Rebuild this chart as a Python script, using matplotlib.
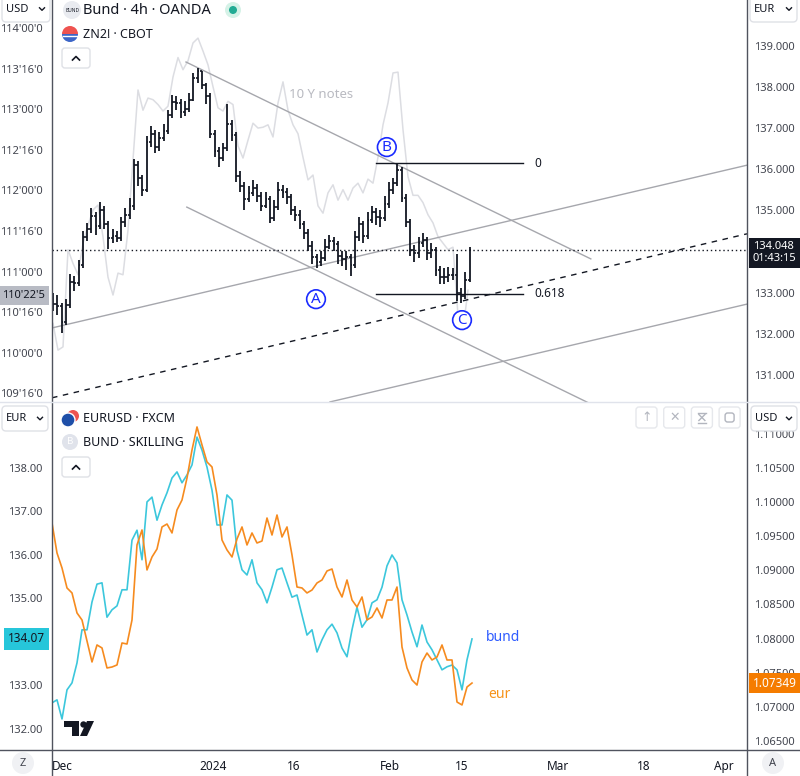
import matplotlib
matplotlib.use("Agg")
import matplotlib.pyplot as plt
import numpy as np
from matplotlib.patches import Circle, FancyBboxPatch, Polygon, Wedge
from matplotlib.ticker import FuncFormatter

plt.rcParams['font.family'] = ['Noto Sans', 'DejaVu Sans']

# x axis is in trading days counted from 1 Dec 2023
date_ticks = [0, 18.9, 29, 41, 49.9, 62, 72.75, 82.75]
date_labels = ["Dec", "2024", "16", "Feb", "15", "Mar", "18", "Apr"]

# Bund 4h bars (OANDA), right scale of the top panel
bar_start, bar_step = -1.125, 0.53125
bund_close = [132.72, 132.67, 132.28, 132.70, 133.26, 133.23, 133.67, 134.35, 134.55, 134.86,
              134.62, 135.01, 134.67, 134.33, 134.38, 134.33, 134.72, 134.89, 135.11, 136.10,
              135.79, 135.50, 136.66, 136.86, 136.54, 136.76, 136.93, 137.32, 137.64, 137.61,
              137.39, 137.47, 137.69, 138.22, 138.39, 138.05, 137.78, 136.86, 136.45, 136.27,
              136.52, 137.10, 136.83, 135.84, 135.59, 135.28, 135.42, 135.55, 135.35, 135.11,
              135.28, 134.82, 135.08, 135.50, 135.45, 135.33, 135.01, 134.89, 134.67, 134.45,
              134.13, 133.87, 133.74, 133.84, 134.11, 134.26, 134.18, 133.89, 133.82, 133.87,
              133.67, 134.35, 134.67, 134.38, 134.77, 134.96, 134.84, 134.82, 135.16, 135.50,
              135.67, 135.98, 135.30, 134.72, 134.04, 133.96, 134.21, 134.28, 133.96, 134.04,
              133.55, 133.38, 133.38, 133.43, 133.43, 132.99, 132.92, 133.31, 134.048]
bund_high = [133.00, 132.95, 132.75, 132.85, 133.45, 133.40, 133.80, 134.50, 134.70, 135.05,
             134.95, 135.20, 135.10, 134.75, 134.55, 134.50, 134.85, 135.05, 135.30, 136.25,
             136.20, 135.85, 136.80, 137.05, 136.95, 136.90, 137.10, 137.45, 137.80, 137.78,
             137.70, 137.65, 137.85, 138.35, 138.46, 138.40, 138.10, 137.85, 136.95, 136.55,
             136.65, 137.60, 137.20, 136.90, 135.95, 135.70, 135.60, 135.75, 135.65, 135.45,
             135.45, 135.35, 135.25, 135.70, 135.62, 135.55, 135.40, 135.10, 135.00, 134.75,
             134.55, 134.25, 133.95, 134.00, 134.30, 134.40, 134.35, 134.25, 134.00, 134.00,
             133.95, 134.50, 134.85, 134.75, 134.95, 135.10, 135.05, 135.00, 135.35, 135.70,
             135.80, 136.15, 136.05, 135.40, 134.80, 134.15, 134.35, 134.45, 134.35, 134.20,
             134.10, 133.65, 133.60, 133.62, 133.60, 133.95, 133.10, 133.50, 134.10]
bund_low = [132.55, 132.45, 132.02, 132.20, 132.62, 133.05, 133.15, 133.60, 134.25, 134.45,
            134.40, 134.55, 134.55, 134.05, 134.20, 134.22, 134.25, 134.60, 134.80, 135.00,
            135.60, 135.35, 135.45, 136.55, 136.40, 136.45, 136.70, 136.85, 137.25, 137.45,
            137.25, 137.30, 137.40, 137.65, 138.10, 137.95, 137.60, 136.75, 136.30, 136.05,
            136.20, 136.45, 136.70, 135.70, 135.45, 135.00, 135.20, 135.35, 135.20, 134.98,
            135.05, 134.70, 134.75, 135.00, 135.30, 135.15, 134.90, 134.75, 134.55, 134.30,
            134.00, 133.70, 133.60, 133.65, 133.78, 134.05, 134.00, 133.70, 133.65, 133.55,
            133.40, 133.60, 134.25, 134.20, 134.30, 134.70, 134.65, 134.60, 134.75, 135.05,
            135.40, 135.60, 135.20, 134.60, 133.90, 133.75, 133.85, 134.10, 133.80, 133.85,
            133.40, 133.20, 133.20, 133.25, 133.30, 132.80, 132.75, 132.85, 133.25]
bund_first_open = 132.85
bund_ticks = [131, 132, 133, 135, 136, 137, 138, 139]

# ZN2! (CBOT 10 Y notes), left scale of the top panel, in points
zn_start, zn_step = -1.125, 0.625
zn_close = [110.36, 110.03, 110.07, 111.27, 111.10, 110.96, 111.35, 111.57, 111.76, 111.82,
            111.43, 110.93, 110.71, 110.98, 110.96, 111.51, 112.38, 113.24, 112.99, 113.14,
            113.12, 113.06, 112.98, 113.04, 113.40, 113.64, 113.49, 113.60, 113.82, 113.88,
            113.72, 113.55, 113.28, 113.02, 112.98, 113.10, 113.06, 112.55, 112.40, 112.62,
            112.83, 112.77, 112.78, 112.81, 112.66, 113.08, 113.34, 112.99, 112.81, 112.70,
            112.41, 112.13, 112.19, 111.81, 111.72, 111.97, 112.07, 111.88, 112.01, 111.88,
            112.03, 112.09, 111.97, 112.14, 112.09, 112.41, 112.81, 113.08, 113.45, 113.46,
            112.75, 112.17, 111.94, 111.94, 111.85, 111.70, 111.60, 111.43, 111.35, 111.27,
            111.30, 110.46, 110.28, 110.77]
zn_last = 110.703125

# bottom panel: BUND (SKILLING) left scale, EURUSD (FXCM) right scale
cmp_start, cmp_step = -1.25, 0.625
bund_skilling = [132.60, 132.67, 132.23, 132.90, 133.06, 133.52, 134.28, 134.28, 134.92, 135.33,
                 135.36, 134.57, 134.74, 134.83, 135.20, 135.20, 136.34, 136.57, 135.89, 137.22,
                 137.33, 136.80, 137.15, 137.43, 137.77, 137.91, 137.66, 137.84, 138.07, 138.71,
                 138.41, 138.02, 137.49, 136.69, 136.69, 137.38, 137.26, 136.11, 135.66, 135.54,
                 135.89, 135.36, 135.20, 134.90, 135.26, 135.66, 135.70, 135.36, 135.03, 135.08,
                 134.62, 134.16, 134.28, 133.77, 134.05, 134.28, 134.41, 134.21, 133.86, 133.66,
                 134.28, 134.80, 134.34, 134.51, 134.90, 134.97, 135.26, 135.75, 136.00, 135.82,
                 134.97, 134.62, 134.23, 133.89, 134.39, 134.00, 133.82, 133.59, 133.36, 133.43,
                 133.47, 133.36, 132.90, 133.59, 134.07]
bund_skilling_ticks = [132, 133, 135, 136, 137, 138]
eurusd = [1.09694, 1.09255, 1.09035, 1.08742, 1.08669, 1.08376, 1.08273, 1.07965, 1.07658, 1.07907,
          1.07863, 1.07570, 1.07584, 1.07614, 1.07936, 1.07921, 1.08273, 1.09372, 1.09592, 1.09006,
          1.09196, 1.09313, 1.09636, 1.09679, 1.09548, 1.09885, 1.10031, 1.10353, 1.10764, 1.11101,
          1.10837, 1.10588, 1.10515, 1.10104, 1.09445, 1.09299, 1.09196, 1.09460, 1.09636, 1.09372,
          1.09548, 1.09401, 1.09430, 1.09767, 1.09518, 1.09811, 1.09489, 1.09636, 1.09225, 1.08756,
          1.08742, 1.08669, 1.08712, 1.08815, 1.08859, 1.08991, 1.09020, 1.08756, 1.08610, 1.08859,
          1.08566, 1.08463, 1.08610, 1.08273, 1.08317, 1.08449, 1.08302, 1.08566, 1.08566, 1.08756,
          1.07877, 1.07570, 1.07394, 1.07320, 1.07658, 1.07789, 1.07687, 1.07731, 1.07907, 1.07687,
          1.07687, 1.07071, 1.07028, 1.07291, 1.07349]
eurusd_ticks = [1.065, 1.070, 1.075, 1.080, 1.085, 1.090, 1.095, 1.100, 1.105, 1.110]

# drawings on the Bund chart: (x from, x to, price from, price to)
channel_lines = [(15.5, 66.1, 138.61, 133.82), (15.6, 66.0, 135.08, 130.30),
                 (-1.25, 85.625, 132.14, 136.10), (33.5, 85.625, 130.34, 132.72)]
dashed_line = (-1.25, 85.625, 130.44, 134.43)
fib_span = (39.25, 57.6)
fib_levels = [("0", 136.15), ("0.618", 132.97)]
wave_labels = [("A", 31.75, 132.84), ("B", 40.6, 136.54), ("C", 50.0, 132.33)]

W, H = 800, 776
fig = plt.figure(figsize=(W / 100, H / 100), dpi=100)


def rect(x0, y0, x1, y1):
    return [x0 / W, 1 - y1 / H, (x1 - x0) / W, (y1 - y0) / H]


ax_zn = fig.add_axes(rect(52, 0, 747, 402))
ax_b = ax_zn.twinx()
ax_bund = fig.add_axes(rect(52, 403, 747, 750))
ax_eur = ax_bund.twinx()

tick_color = '#42454f'
for ax in (ax_zn, ax_b, ax_bund, ax_eur):
    for s in ax.spines.values():
        s.set_visible(False)
    ax.set_xlim(-1.25, 85.625)
    ax.tick_params(length=0, labelsize=8, labelcolor=tick_color)

ax_zn.set_xticks([])
ax_bund.set_xticks(date_ticks, date_labels)
ax_bund.tick_params(axis='x', pad=7, labelsize=8.5, labelcolor='#131722')

# ---- top panel ----
ax_zn.set_ylim(109.39, 114.35)
ax_zn.set_yticks(np.arange(109.5, 114.01, 0.5))


def zn_fmt(v, pos=None):
    whole = int(np.floor(v + 1e-9))
    t = int(round((v - whole) * 320))
    return f"{whole}'{t // 10:02d}'{t % 10}"


ax_zn.yaxis.set_major_formatter(FuncFormatter(zn_fmt))
ax_zn.tick_params(axis='y', pad=7)
x_zn = zn_start + zn_step * np.arange(len(zn_close))
ax_zn.plot(x_zn, zn_close, color='#dcdde2', lw=1.1)

ax_b.set_ylim(130.338, 140.119)
ax_b.set_yticks(bund_ticks)
ax_b.yaxis.set_major_formatter(FuncFormatter(lambda v, p: f"{v:.3f}"))
ax_b.tick_params(axis='y', pad=5)

c = np.array(bund_close)
o = np.array([bund_first_open] + bund_close[:-1])
hi = np.maximum(np.array(bund_high), np.maximum(o, c))
lo = np.minimum(np.array(bund_low), np.minimum(o, c))
xb = bar_start + bar_step * np.arange(len(c))
bar_col = '#131722'
ax_b.vlines(xb, lo, hi, color=bar_col, lw=1.3, zorder=4)
ax_b.hlines(o, xb - 0.22, xb, color=bar_col, lw=1.2, zorder=4)
ax_b.hlines(c, xb, xb + 0.22, color=bar_col, lw=1.2, zorder=4)

for x0, x1, y0, y1 in channel_lines:
    ax_b.plot([x0, x1], [y0, y1], color='#a6a7ad', lw=1.0, zorder=3)
x0, x1, y0, y1 = dashed_line
ax_b.plot([x0, x1], [y0, y1], color='#131722', lw=1.0, dashes=(4, 4), zorder=3)
ax_b.axhline(bund_close[-1], color='#131722', lw=1.0, ls=(0, (1, 2)), zorder=3)

for name, level in fib_levels:
    ax_b.plot(fib_span, [level, level], color='#131722', lw=1.0, zorder=3)
    ax_b.text(fib_span[1] + 1.4, level, name, fontsize=8.5, color='#131722',
              va='center', ha='left')

for name, x, y in wave_labels:
    ax_b.text(x, y, name, fontsize=11, color='#1a2bff', ha='center', va='center', zorder=6,
              bbox=dict(boxstyle='circle,pad=0.12', fc='white', ec='#1a2bff', lw=1.2))

ax_b.text(28.4, 137.81, "10 Y notes", fontsize=9.5, color='#b9bac1', fontweight='bold',
          ha='left', va='center')

ax_b.annotate(f"{bund_close[-1]:.3f}\n01:43:15", xy=(1, bund_close[-1]),
              xycoords=ax_b.get_yaxis_transform(), xytext=(4, 6), textcoords='offset points',
              ha='left', va='top', fontsize=8, color='white', linespacing=1.15,
              bbox=dict(boxstyle='square,pad=0.3', fc='#131722', ec='none'),
              annotation_clip=False, zorder=8)
ax_zn.annotate(zn_fmt(zn_last), xy=(0, zn_last), xycoords=ax_zn.get_yaxis_transform(),
               xytext=(-5, 0), textcoords='offset points', ha='right', va='center',
               fontsize=8, color='#131722',
               bbox=dict(boxstyle='square,pad=0.35', fc='#b8bbc4', ec='none'),
               annotation_clip=False, zorder=8)

# ---- bottom panel ----
ax_bund.set_ylim(131.517, 139.494)
ax_bund.set_yticks(bund_skilling_ticks)
ax_bund.yaxis.set_major_formatter(FuncFormatter(lambda v, p: f"{v:.2f}"))
ax_bund.tick_params(axis='y', pad=7)
x_cmp = cmp_start + cmp_step * np.arange(len(bund_skilling))
ax_bund.plot(x_cmp, bund_skilling, color='#3cc7dc', lw=1.2)

ax_eur.set_ylim(1.06368, 1.11452)
ax_eur.set_yticks(eurusd_ticks)
ax_eur.yaxis.set_major_formatter(FuncFormatter(lambda v, p: f"{v:.5f}"))
ax_eur.tick_params(axis='y', pad=5)
ax_eur.plot(cmp_start + cmp_step * np.arange(len(eurusd)), eurusd, color='#f68b1f', lw=1.2)

ax_bund.text(53.0, 134.11, "bund", fontsize=10, color='#2f5cff', ha='left', va='center')
ax_bund.text(53.25, 132.80, "eur", fontsize=10, color='#f7931a', ha='left', va='center')

ax_bund.annotate(f"{bund_skilling[-1]:.2f}", xy=(0, bund_skilling[-1]),
                 xycoords=ax_bund.get_yaxis_transform(), xytext=(-5, 0),
                 textcoords='offset points', ha='right', va='center', fontsize=8.5,
                 color='#131722', bbox=dict(boxstyle='square,pad=0.35', fc='#26c6da', ec='none'),
                 annotation_clip=False, zorder=8)
ax_eur.annotate(f"{eurusd[-1]:.5f}", xy=(1, eurusd[-1]), xycoords=ax_eur.get_yaxis_transform(),
                xytext=(4, 0), textcoords='offset points', ha='left', va='center',
                fontsize=8.5, color='white',
                bbox=dict(boxstyle='square,pad=0.3', fc='#f57c00', ec='none'),
                annotation_clip=False, zorder=8)

# ---- chrome in pixel coordinates ----
ov = fig.add_axes([0, 0, 1, 1], zorder=10)
ov.set_xlim(0, W)
ov.set_ylim(H, 0)
ov.axis('off')
ov.patch.set_alpha(0)

ov.plot([52, 52], [0, H], color='#50535e', lw=1)
ov.plot([747, 747], [0, H], color='#50535e', lw=1)
ov.plot([0, W], [750, 750], color='#50535e', lw=1)
ov.plot([0, W], [402, 402], color='#e0e3eb', lw=1)


def button(x0, y0, x1, y1, label=None, chevron=True):
    ov.add_patch(FancyBboxPatch((x0, y0), x1 - x0, y1 - y0, boxstyle='round,pad=0,rounding_size=4',
                                fc='white', ec='#dfe1e6', lw=1))
    if label:
        ov.text(x0 + 4, (y0 + y1) / 2, label, fontsize=8, color='#131722', va='center', ha='left')
    if chevron:
        cx, cy = x1 - 8, (y0 + y1) / 2
        ov.plot([cx - 2.5, cx, cx + 2.5], [cy - 1.2, cy + 1.3, cy - 1.2], color='#131722', lw=1)


button(2, -4, 50, 22, "USD")
button(750, -4, 797, 22, "EUR")
button(2, 406, 48, 431, "EUR")
button(751, 406, 797, 431, "USD")

for y0 in (48, 457):
    ov.add_patch(FancyBboxPatch((62, y0), 28, 20, boxstyle='round,pad=0,rounding_size=3',
                                fc='white', ec='#dfe1e6', lw=1))
    ov.plot([72.5, 76, 79.5], [y0 + 12, y0 + 8.5, y0 + 12], color='#131722', lw=1.2)

icon_col = '#b2b5be'
for i in range(4):
    bx = 636 + i * 27.7
    ov.add_patch(FancyBboxPatch((bx, 407), 21, 21, boxstyle='round,pad=0,rounding_size=3',
                                fc='white', ec='#e6e8ec', lw=1))
    cx, cy = bx + 10.5, 417.5
    if i == 0:
        ov.text(cx, cy, "↑", fontsize=9, color=icon_col, ha='center', va='center')
    elif i == 1:
        ov.text(cx, cy, "✕", fontsize=9, color=icon_col, ha='center', va='center')
    elif i == 2:
        # collapse-pane icon
        ov.plot([cx - 4, cx + 4], [cy - 5, cy - 5], color=icon_col, lw=1)
        ov.plot([cx - 4, cx + 4], [cy + 5, cy + 5], color=icon_col, lw=1)
        ov.plot([cx - 3, cx + 3], [cy - 3, cy + 3], color=icon_col, lw=1)
        ov.plot([cx - 3, cx + 3], [cy + 3, cy - 3], color=icon_col, lw=1)
    else:
        ov.add_patch(FancyBboxPatch((cx - 4.5, cy - 4.5), 9, 9,
                                    boxstyle='round,pad=0,rounding_size=2.5',
                                    fc='none', ec=icon_col, lw=1))

# legend lines
ov.add_patch(Circle((72, 10), 9, fc='#e9ebf0', ec='none'))
ov.text(72, 10.5, "BUND", fontsize=3.5, color='#131722', ha='center', va='center')
ov.text(83, 10, "Bund · 4h · OANDA", fontsize=10.5, color='#131722', va='center', ha='left')
ov.add_patch(Circle((233, 10), 8, fc='#d5f2e7', ec='none'))
ov.add_patch(Circle((233, 10), 4, fc='#22ab94', ec='none'))

ov.add_patch(Wedge((70, 34), 8, 0, 180, fc='#3c66c8', ec='none'))
ov.add_patch(Wedge((70, 34), 8, 180, 360, fc='#ef5350', ec='none'))
ov.plot([62.5, 77.5], [36, 36], color='white', lw=1)
ov.text(83, 34, "ZN2! · CBOT", fontsize=9, color='#131722', va='center', ha='left')

ov.add_patch(Circle((73, 416), 6, fc='#ef5350', ec='none'))
ov.add_patch(Circle((68, 420), 7, fc='#1f4fa8', ec='white', lw=1))
ov.text(83, 419, "EURUSD · FXCM", fontsize=9, color='#131722', va='center', ha='left')
ov.add_patch(Circle((70, 442), 8, fc='#e0e3eb', ec='none'))
ov.text(70, 442, "B", fontsize=7, color='white', ha='center', va='center')
ov.text(83, 442, "BUND · SKILLING", fontsize=9, color='#131722', va='center', ha='left')

# TradingView mark
ov.add_patch(Polygon([(64, 721), (79, 721), (79, 736), (72, 736), (72, 727), (64, 727)],
                     closed=True, fc='#131722', ec='none'))
ov.add_patch(Circle((83.5, 724.5), 3.2, fc='#131722', ec='none'))
ov.add_patch(Polygon([(87, 721), (94, 721), (87, 736), (80, 736)], closed=True,
                     fc='#131722', ec='none'))

for cx, letter in ((23, "Z"), (773, "A")):
    ov.add_patch(Circle((cx, 763), 11, fc='#f0f1f4', ec='none'))
    ov.text(cx, 763, letter, fontsize=8, color='#42454f', ha='center', va='center')

fig.savefig("out.png", dpi=100)
